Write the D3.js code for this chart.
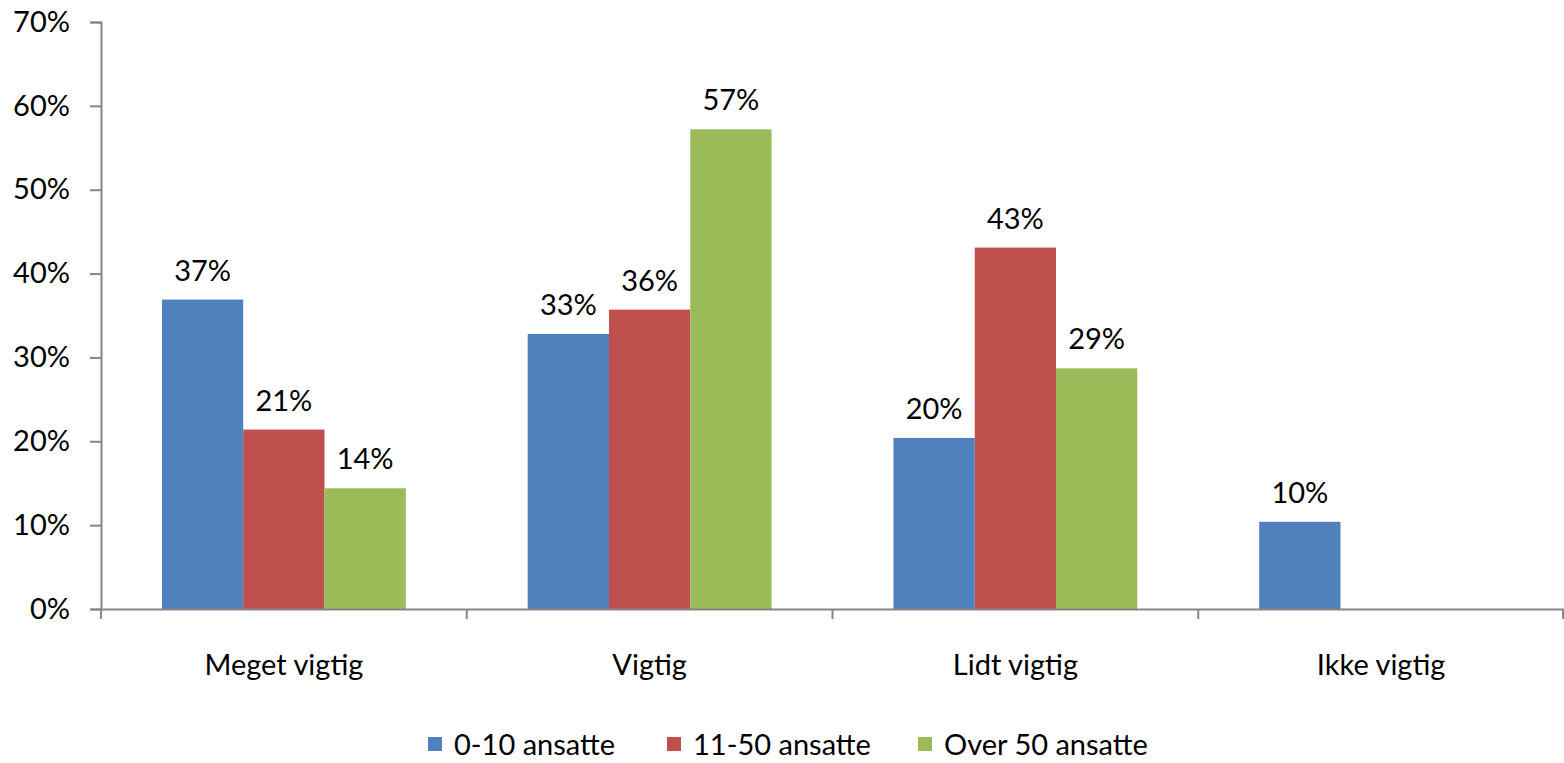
<!DOCTYPE html>
<html><head><meta charset="utf-8">
<script src="https://cdn.jsdelivr.net/npm/d3@7"></script>
<style>
html,body{margin:0;padding:0;background:#fff;}
text{font-family:Lato, "Open Sans", sans-serif;fill:#000;}
</style></head>
<body><svg id="c" width="1564" height="763"></svg>
<script>
const categories = ["Meget vigtig", "Vigtig", "Lidt vigtig", "Ikke vigtig"];
const seriesNames = ["0-10 ansatte", "11-50 ansatte", "Over 50 ansatte"];
const small = [36.9, 32.8, 20.4, 10.4];
const medium = [21.4, 35.7, 43.1, null];
const large = [14.4, 57.2, 28.7, null];
const yTicks = [0, 10, 20, 30, 40, 50, 60, 70];
const colors = ["#4F81BD", "#C0504D", "#9BBB59"];

const seriesValues = [small, medium, large];
const svg = d3.select("#c");
const plotLeft = 101, plotRight = 1564, plotTop = 22, plotBottom = 609;
const axisColor = "#868686";
const fs = "29px";

const x0 = d3.scaleBand().domain(categories).range([plotLeft, plotRight]).paddingInner(0).paddingOuter(0);
const x1 = d3.scaleBand().domain(seriesNames).range([0, x0.bandwidth()]).paddingInner(0).paddingOuter(0.75);
const y = d3.scaleLinear().domain([0, 70]).range([plotBottom, plotTop]);

const rows = [];
categories.forEach((c, i) => seriesNames.forEach((s, j) => {
  const v = seriesValues[j][i];
  if (v != null) rows.push({c, s, v, j});
}));

svg.append("g").selectAll("rect").data(rows).join("rect")
  .attr("x", d => x0(d.c) + x1(d.s))
  .attr("y", d => y(d.v))
  .attr("width", x1.bandwidth())
  .attr("height", d => y(0) - y(d.v))
  .attr("fill", d => colors[d.j]);

const fmt = v => d3.format(".0%")(v / 100);
svg.append("g").selectAll("text").data(rows).join("text")
  .attr("x", d => x0(d.c) + x1(d.s) + x1.bandwidth() / 2)
  .attr("y", d => y(d.v) - 19)
  .attr("text-anchor", "middle")
  .style("font-size", fs)
  .text(d => fmt(d.v));

// y axis
const yAxis = svg.append("g").attr("transform", `translate(${plotLeft},0)`)
  .call(d3.axisLeft(y).tickValues(yTicks).tickSize(11).tickPadding(20).tickFormat(v => v + "%"));
yAxis.select(".domain").attr("stroke", axisColor).attr("stroke-width", 2);
yAxis.selectAll(".tick line").attr("stroke", axisColor).attr("stroke-width", 2);
yAxis.selectAll(".tick text").style("font-size", fs).attr("font-family", null);

// x axis
const xAxis = svg.append("g").attr("transform", `translate(0,${plotBottom})`)
  .call(d3.axisBottom(x0).tickSize(0).tickPadding(45));
xAxis.select(".domain").attr("stroke", axisColor).attr("stroke-width", 2);
xAxis.selectAll(".tick text").style("font-size", fs).attr("font-family", null);
const bounds = categories.map(c => x0(c)).concat([plotRight]);
svg.append("g").selectAll("line").data(bounds).join("line")
  .attr("x1", d => Math.min(d, plotRight - 1)).attr("x2", d => Math.min(d, plotRight - 1))
  .attr("y1", plotBottom).attr("y2", plotBottom + 10)
  .attr("stroke", axisColor).attr("stroke-width", 2);

// legend
const legendX = [428, 667, 918];
const lg = svg.append("g").selectAll("g").data(seriesNames).join("g")
  .attr("transform", (d, i) => `translate(${legendX[i]},737)`);
lg.append("rect").attr("width", 14).attr("height", 14).attr("fill", (d, i) => colors[i]);
lg.append("text").attr("x", 26).attr("y", 8).attr("dy", "0.35em")
  .style("font-size", fs).text(d => d);
</script></body></html>
